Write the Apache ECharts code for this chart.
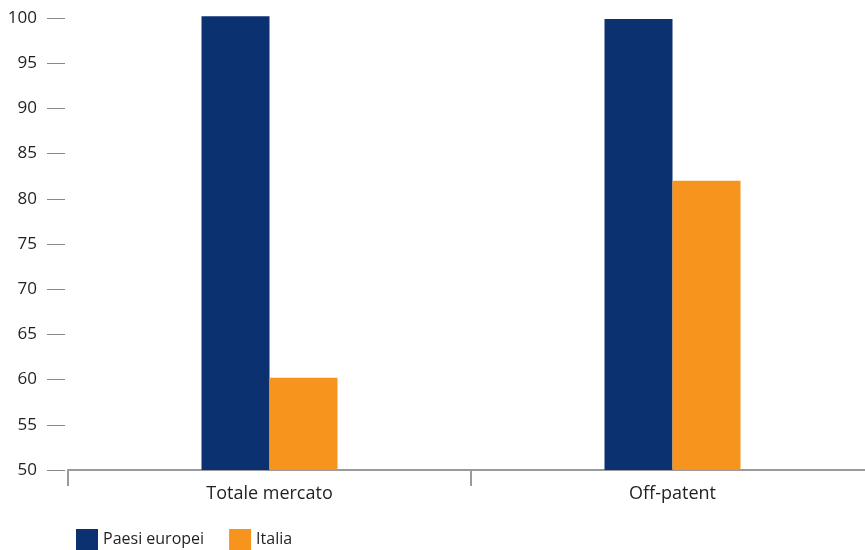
<!DOCTYPE html>
<html><head><meta charset="utf-8">
<script src="https://cdn.jsdelivr.net/npm/echarts@6/dist/echarts.min.js"></script>
<style>html,body{margin:0;padding:0;background:#fff}#c{width:865px;height:550px}</style>
</head><body><div id="c"></div>
<script>
const categories = ['Totale mercato', 'Off-patent'];
const paesiEuropei = [100.2, 99.9];
const italia = [60.2, 82.0];
const seriesNames = ['Paesi europei', 'Italia'];

const chart = echarts.init(document.getElementById('c'));
const font = 'Open Sans';
chart.setOption({
  animation: false,
  textStyle: { fontFamily: font },
  grid: { left: 68, top: 15.74, width: 806, height: 454.26, outerBoundsMode: 'none', containLabel: false },
  legend: {
    left: 76, top: 529, padding: 0, icon: 'rect', itemWidth: 22, itemHeight: 21, itemGap: 25,
    textStyle: { fontFamily: font, fontSize: 16, color: '#231f20' },
    data: seriesNames
  },
  xAxis: {
    type: 'category', data: categories,
    axisLine: { lineStyle: { color: '#9a9a9e', width: 2 } },
    axisTick: { show: true, interval: 0, length: 16, lineStyle: { color: '#9a9a9e', width: 2 } },
    axisLabel: { fontFamily: font, fontSize: 18, color: '#231f20', margin: 15 }
  },
  yAxis: {
    type: 'value', min: 50, max: 100.25, interval: 5, offset: 3,
    axisLine: { show: false },
    axisTick: { show: true, length: 18, lineStyle: { color: '#8a8a8e', width: 1 } },
    splitLine: { show: false },
    axisLabel: { fontFamily: font, fontSize: 17, color: '#231f20', margin: 28, showMaxLabel: false }
  },
  series: [
    { name: seriesNames[0], type: 'bar', data: paesiEuropei, barWidth: 68, barGap: '0%', itemStyle: { color: '#0b3170' } },
    { name: seriesNames[1], type: 'bar', data: italia, barWidth: 68, itemStyle: { color: '#f7941d' } }
  ]
});
</script></body></html>
